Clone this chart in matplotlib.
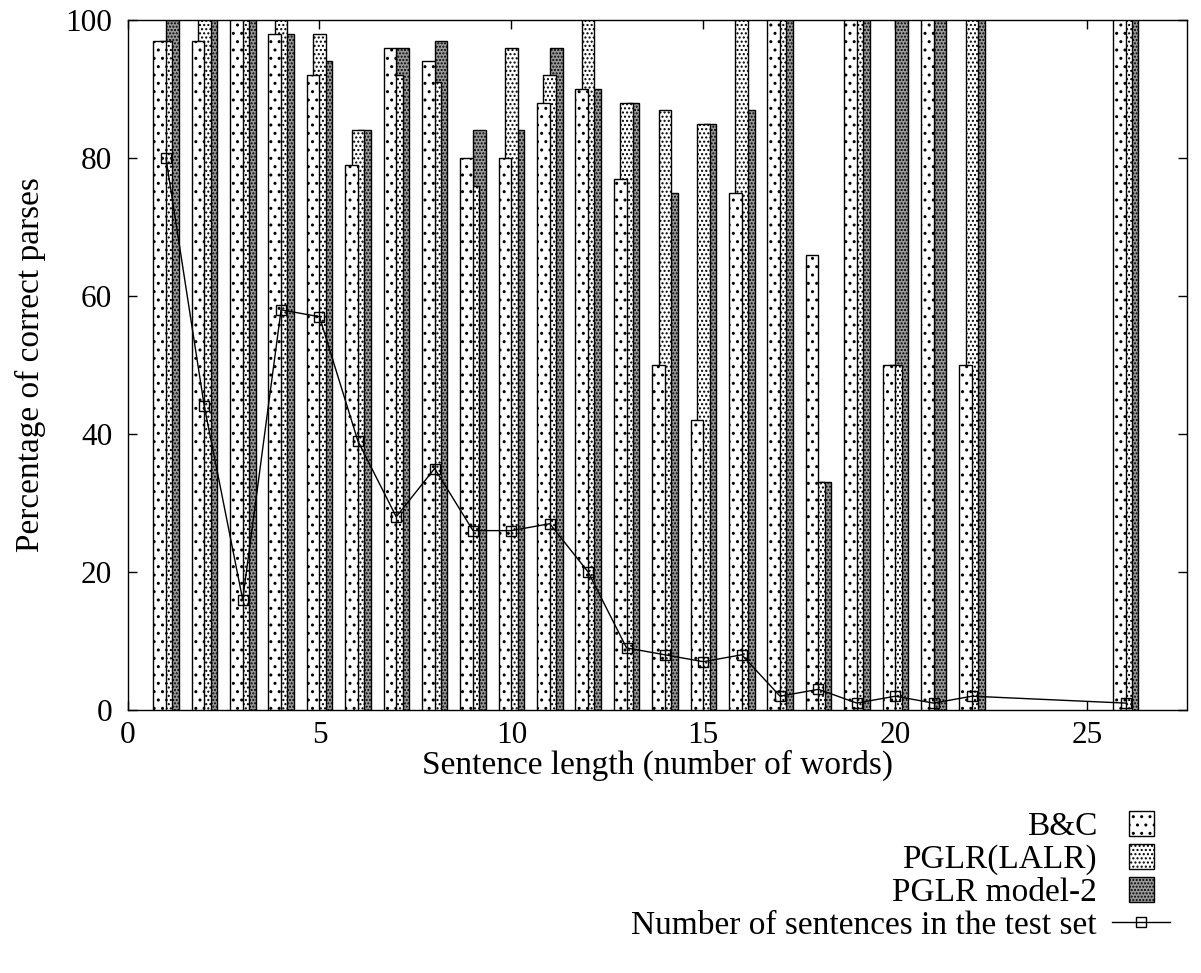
import matplotlib
matplotlib.use("Agg")
import matplotlib.pyplot as plt
from matplotlib.patches import Rectangle
from matplotlib.container import BarContainer
from matplotlib.legend_handler import HandlerPatch, update_from_first_child
import numpy as np

plt.rcParams['font.family'] = ['Liberation Serif', 'DejaVu Serif']
plt.rcParams['hatch.linewidth'] = 1.0

# sentence length (number of words)
lengths = [1, 2, 3, 4, 5, 6, 7, 8, 9, 10, 11, 12, 13, 14, 15, 16, 17, 18, 19, 20, 21, 22, 26]
bc = [97, 97, 100, 98, 92, 79, 96, 94, 80, 80, 88, 90, 77, 50, 42, 75, 100, 66, 100, 50, 100, 50, 100]
pglr_lalr = [97, 100, 100, 100, 98, 84, 92, 91, 76, 96, 92, 100, 88, 87, 85, 100, 100, 33, 100, 50, 0, 100, 100]
pglr_model2 = [100, 100, 100, 98, 94, 84, 96, 97, 84, 84, 96, 90, 88, 75, 85, 87, 100, 33, 100, 100, 100, 100, 100]
n_sentences = [80, 44, 16, 58, 57, 39, 28, 35, 26, 26, 27, 20, 9, 8, 7, 8, 2, 3, 1, 2, 1, 2, 1]

x = np.array(lengths, dtype=float)
w = 0.33
fs = 24

fig = plt.figure(figsize=(12.01, 9.73), dpi=100)
ax = fig.add_axes([0.1062, 0.2703, 0.8821, 0.7091])

# dark bars first, B&C drawn on top
b3 = ax.bar(x + 0.17, pglr_model2, width=w, facecolor='#9a9a9a', edgecolor='black',
            hatch='.....', linewidth=1.0, label='PGLR model-2', zorder=2)
b2 = ax.bar(x, pglr_lalr, width=w, facecolor='white', edgecolor='black',
            hatch='....', linewidth=1.0, label='PGLR(LALR)', zorder=3)
b1 = ax.bar(x - 0.165, bc, width=w, facecolor='white', edgecolor='black',
            hatch='..', linewidth=1.0, label='B&C', zorder=4)
ln, = ax.plot(x, n_sentences, color='black', linewidth=1.0, marker='s', markersize=7.5,
              markerfacecolor='none', markeredgewidth=1.0,
              label='Number of sentences in the test set', zorder=5)

ax.set_xlim(0, 27.6)
ax.set_ylim(0, 100)
ax.set_xticks([0, 5, 10, 15, 20, 25])
ax.set_yticks([0, 20, 40, 60, 80, 100])
ax.tick_params(direction='in', length=6.5, width=1.0, labelsize=22.5,
               top=True, right=True, pad=11)
ax.tick_params(axis='x', pad=8)
for s in ax.spines.values():
    s.set_linewidth(1.0)

ax.set_xlabel('Sentence length (number of words)', fontsize=fs, labelpad=0)
ax.set_ylabel('Percentage of correct parses', fontsize=fs, labelpad=14)


def square_box(legend, orig_handle, xdescent, ydescent, width, height, fontsize):
    s = 18
    return Rectangle((-xdescent + (width - s) / 2, -ydescent + (height - s) / 2), s, s)


hm = {BarContainer: HandlerPatch(patch_func=square_box, update_func=update_from_first_child)}
fig.legend([b1, b2, b3, ln], ['B&C', 'PGLR(LALR)', 'PGLR model-2', 'Number of sentences in the test set'],
           loc='upper right', bbox_to_anchor=(1187 / 1201, 1 - 795 / 973),
           frameon=False, markerfirst=False, fontsize=fs, handler_map=hm,
           handlelength=1.75, handletextpad=0.45, labelspacing=0.07, borderpad=0)

fig.savefig('out.png', dpi=100)
